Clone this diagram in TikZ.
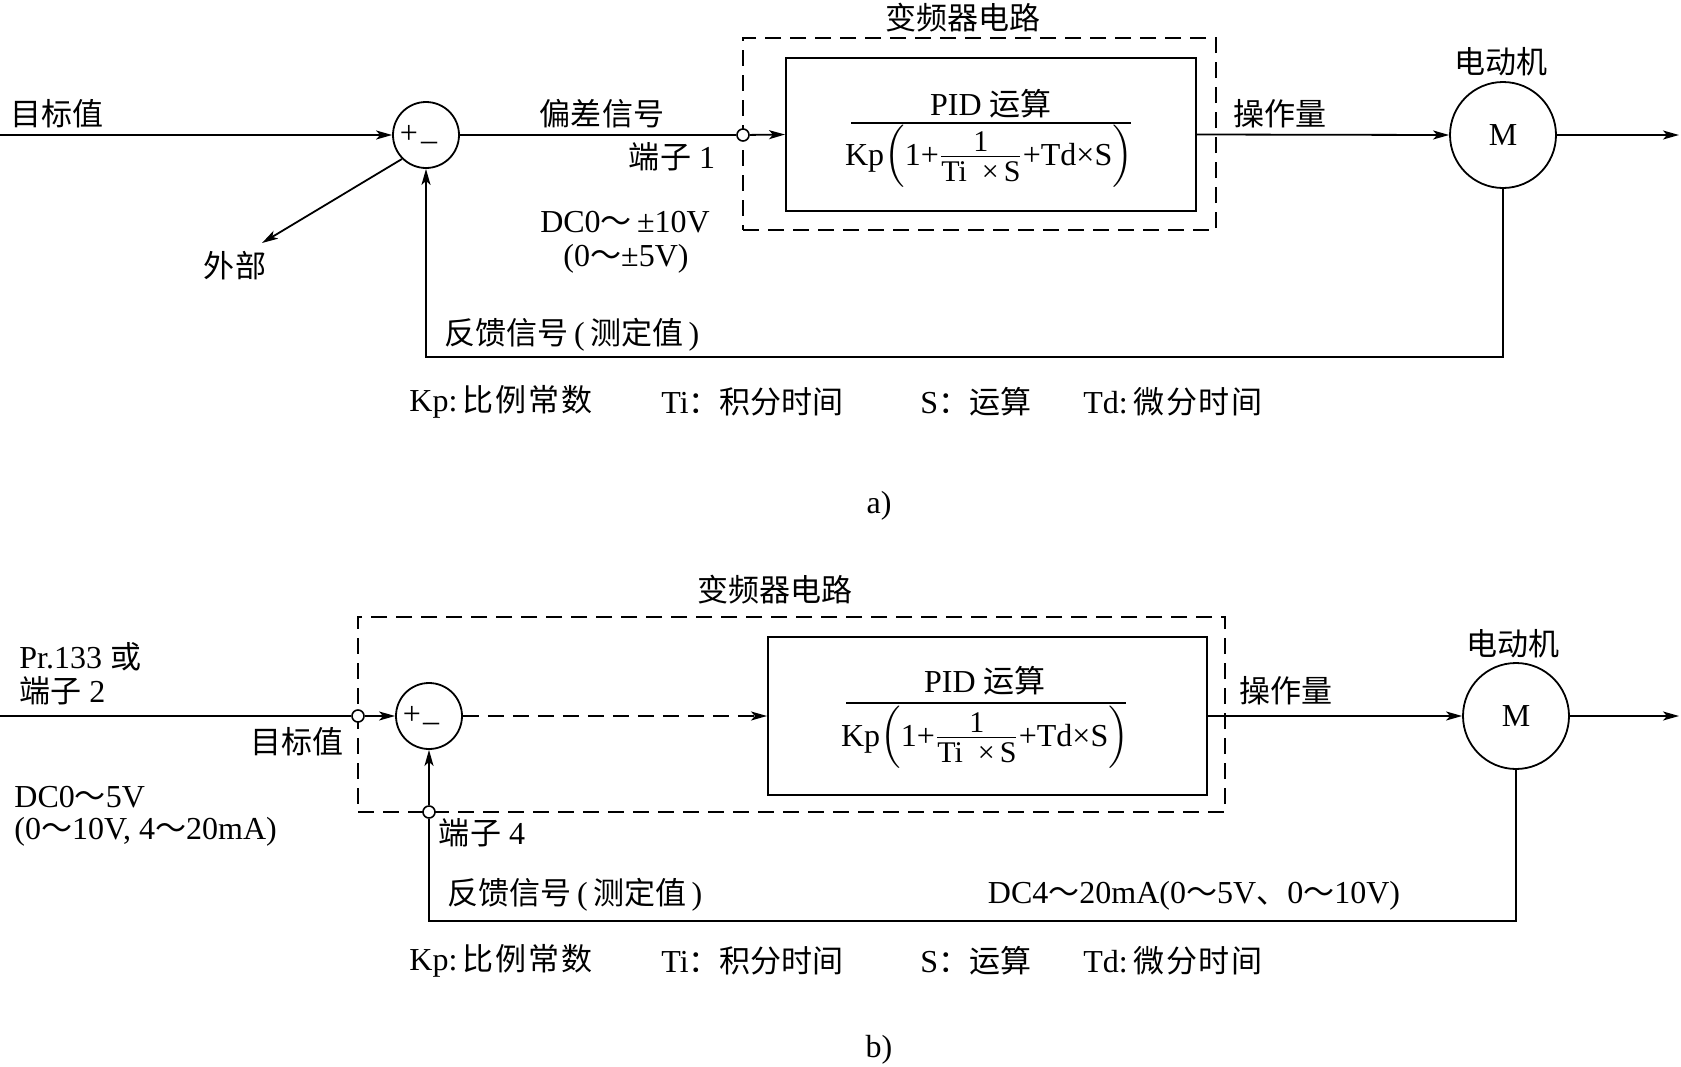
\documentclass[tikz,border=0pt]{standalone}
\usepackage{amsmath}
\usepackage{fontspec}
\setmainfont{Liberation Serif}
\newfontfamily\cjk[Scale=0.97]{Noto Sans CJK SC}
\newfontfamily\cjkw[Scale=0.97,LetterSpace=6]{Noto Sans CJK SC}
\usetikzlibrary{arrows.meta}
\newcommand{\pidformula}{\fontsize{16}{18}\selectfont Kp$\Bigl(\text{1+}\frac{\text{\fontsize{15}{18}\selectfont 1}}{\text{\rule{0pt}{11.5pt}\fontsize{15}{18}\selectfont Ti\ \ ×\,S}}\text{+Td×S}\Bigr)$}
\tikzset{
  lbl/.style={inner sep=0pt, font=\fontsize{16}{19}\selectfont},
  sumc/.style={circle, draw, line width=0.9pt, minimum size=33pt, inner sep=0pt},
  motor/.style={circle, draw, line width=0.9pt, minimum size=53pt, inner sep=0pt, font=\fontsize{16}{19}\selectfont},
  term/.style={circle, draw, line width=0.8pt, fill=white, minimum size=6pt, inner sep=0pt},
  pidbox/.style={rectangle, draw, line width=1pt, inner sep=0pt},
  dbox/.style={rectangle, draw, line width=1pt, dash pattern=on 8pt off 4.5pt, inner sep=0pt},
  conn/.style={line width=0.9pt},
  arr/.style={conn, -{Stealth[length=8pt,width=4.5pt,inset=2pt]}},
  dconn/.style={arr, dash pattern=on 8pt off 4.5pt},
}
\begin{document}
\begin{tikzpicture}[x=0.5pt,y=-0.5pt]
\useasboundingbox[fill=white] (0,0) rectangle (1681,1066);

% ================= a) =================
\node[sumc] (s1) at (426,135) {};
\node[lbl] (s1p) at (409,134) {+};
\node[lbl] (s1m) at (429,146) {--};
\node[dbox, minimum width=236.5pt, minimum height=96pt] (d1) at (979.5,134) {};
\node[pidbox, minimum width=205pt, minimum height=76.5pt] (p1) at (991,134.5) {};
\node[term] (t1) at (743,135) {};
\node[motor] (m1) at (1503,135) {M};
\coordinate (in1) at (0,135);
\coordinate (out1) at (1679,135);
\coordinate (ext1) at (262,243);
\coordinate (fb1) at (426,357);
\coordinate (bar1l) at (851,122.5);
\coordinate (bar1r) at (1131,122.5);

\draw[arr] (in1) -- (s1.west);
\draw[arr] (s1.225) -- (ext1);
\draw[conn] (s1.east) -- (t1);
\draw[arr] (t1) -- (p1.west);
\draw[arr] (p1.east) -- (m1.west);
\draw[arr] (m1.east) -- (out1);
\draw[arr] (m1.south) |- (fb1) -- (s1.south);
\draw[line width=1pt] (bar1l) -- (bar1r);

\node[lbl, anchor=west] (l1) at (10,114) {\cjk 目标值};
\node[lbl] (l2) at (235,266) {\cjk 外部};
\node[lbl] (l3) at (602,114) {\cjk 偏差信号};
\node[lbl] (l4) at (672,157) {{\cjk 端子} 1};
\node[lbl] (l5) at (625,222) {DC0{\cjk ～}\,±10V};
\node[lbl] (l6) at (626,259) {(0{\cjk ～}±5V)};
\node[lbl] (l7) at (572,335) {{\cjk 反馈信号}\,(\,{\cjk 测定值}\,)};
\node[lbl] (l8) at (963,18) {\cjk 变频器电路};
\node[lbl] (l9) at (991,104) {PID {\cjk 运算}};
\node[lbl, anchor=base] (f1) at (989,165) {\pidformula};
\node[lbl] (l10) at (1280,114) {\cjk 操作量};
\node[lbl] (l11) at (1501,62) {\cjk 电动机};
\node[lbl, anchor=west] (k1) at (409,402) {Kp:\,{\cjkw 比例常数}};
\node[lbl, anchor=west] (k2) at (661,402) {Ti{\cjk ：积分时间}};
\node[lbl, anchor=west] (k3) at (920,402) {S{\cjk ：运算}};
\node[lbl, anchor=west] (k4) at (1083,402) {Td:\,{\cjkw 微分时间}};
\node[lbl] (ca) at (879,506) {a)};

% ================= b) =================
\node[dbox, minimum width=433.5pt, minimum height=97.5pt] (d2) at (791.5,714.5) {};
\node[pidbox, minimum width=219.5pt, minimum height=79pt] (p2) at (987.5,716) {};
\node[sumc] (s2) at (429,716) {};
\node[lbl] (s2p) at (412,715) {+};
\node[lbl] (s2m) at (431,727) {--};
\node[term] (t2) at (358,716) {};
\node[term] (t4) at (429,812) {};
\node[motor] (m2) at (1516,716) {M};
\coordinate (in2) at (0,716);
\coordinate (out2) at (1679,716);
\coordinate (fb2) at (429,921);
\coordinate (bar2l) at (846,703);
\coordinate (bar2r) at (1126,703);

\draw[conn] (in2) -- (t2);
\draw[arr] (t2) -- (s2.west);
\draw[dconn] (s2.east) -- (p2.west);
\draw[arr] (p2.east) -- (m2.west);
\draw[arr] (m2.east) -- (out2);
\draw[conn] (m2.south) |- (fb2) -- (t4);
\draw[arr] (t4) -- (s2.south);
\draw[line width=1pt] (bar2l) -- (bar2r);

\node[lbl, anchor=west] (b1) at (19,657) {Pr.133 {\cjk 或}};
\node[lbl, anchor=west] (b2) at (19,691) {{\cjk 端子} 2};
\node[lbl] (b3) at (297,742) {\cjk 目标值};
\node[lbl, anchor=west] (b4) at (14,797) {DC0{\cjk ～}5V};
\node[lbl, anchor=west] (b5) at (14,832) {(0{\cjk ～}10V, 4{\cjk ～}20mA)};
\node[lbl] (b6) at (482,833) {{\cjk 端子} 4};
\node[lbl] (b7) at (775,590) {\cjk 变频器电路};
\node[lbl] (b8) at (985,681) {PID {\cjk 运算}};
\node[lbl, anchor=base] (f2) at (985,746) {\pidformula};
\node[lbl] (b9) at (1286,691) {\cjk 操作量};
\node[lbl] (b10) at (1513,644) {\cjk 电动机};
\node[lbl] (b11) at (575,895) {{\cjk 反馈信号}\,(\,{\cjk 测定值}\,)};
\node[lbl] (b12) at (1194,896) {DC4{\cjk ～}20mA(0{\cjk ～}5V{\cjk 、}0{\cjk ～}10V)};
\node[lbl, anchor=west] (kb1) at (409,961) {Kp:\,{\cjkw 比例常数}};
\node[lbl, anchor=west] (kb2) at (661,961) {Ti{\cjk ：积分时间}};
\node[lbl, anchor=west] (kb3) at (920,961) {S{\cjk ：运算}};
\node[lbl, anchor=west] (kb4) at (1083,961) {Td:\,{\cjkw 微分时间}};
\node[lbl] (cb) at (879,1050) {b)};
\end{tikzpicture}
\end{document}
